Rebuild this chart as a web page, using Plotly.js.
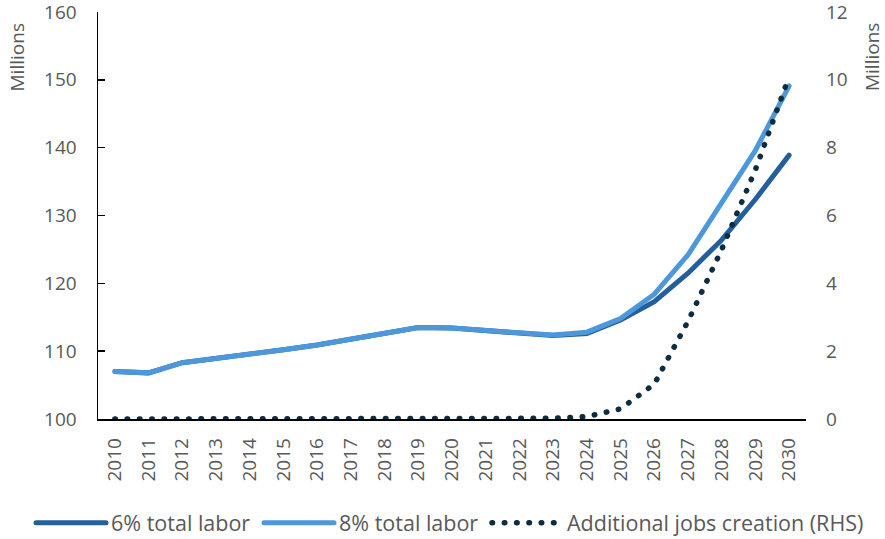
<!DOCTYPE html>
<html><head><meta charset="utf-8">
<script src="https://cdn.plot.ly/plotly-3.0.1.min.js"></script>
<style>
html,body{margin:0;padding:0;background:#fff}
#chart{width:885px;height:539px}
path.js-line{stroke-linecap:round}
</style></head><body><div id="chart"></div>
<script>
const years = ['2010','2011','2012','2013','2014','2015','2016','2017','2018','2019','2020','2021','2022','2023','2024','2025','2026','2027','2028','2029','2030'];
const labor6 = [107.0,106.8,108.3,108.9,109.6,110.2,110.9,111.8,112.7,113.5,113.4,113.0,112.7,112.3,112.6,114.6,117.3,121.5,126.4,132.4,138.9];
const labor8 = [107.0,106.8,108.3,108.9,109.6,110.2,110.9,111.8,112.7,113.5,113.4,113.0,112.7,112.4,112.8,114.8,118.4,124.2,131.8,139.6,149.1];
const jobs = [0,0,0,0,0,0,0,0,0,0,0,0,0,0.02,0.07,0.3,1.03,2.88,5.0,7.35,10.1];
const seriesNames = ['6% total labor','8% total labor','Additional jobs creation (RHS)'];
const axisTitle = 'Millions';

const txt = '#595959';
const fam = '"Open Sans", "Noto Sans", sans-serif';
const fs = 19;

const traces = [
  {x: years, y: labor6, name: seriesNames[0], type:'scatter', mode:'lines', line:{color:'#235F9C', width:5}},
  {x: years, y: labor8, name: seriesNames[1], type:'scatter', mode:'lines', line:{color:'#4D97DB', width:5}},
  {x: years, y: jobs, name: seriesNames[2], type:'scatter', mode:'lines', yaxis:'y2', line:{color:'#0C2C3F', width:5.5, dash:'0.5px,11.8px'}}
];

const layout = {
  width: 885, height: 539,
  margin: {l:98, r:79, t:12, b:120, autoexpand:false},
  paper_bgcolor:'#fff', plot_bgcolor:'#fff',
  font: {family: fam, color: txt, size: fs},
  showlegend: true,
  xaxis: {type:'category', range:[-0.5,20.5], showline:true, linecolor:'#000', linewidth:1.5, ticks:'', tickangle:-90, automargin:false,
          tickfont:{size:fs, color:txt}, showgrid:false, zeroline:false, ticklabelstandoff:10, fixedrange:true, ticklabeloverflow:'allow'},
  yaxis: {range:[100,160], dtick:10, showline:true, linecolor:'#000', linewidth:1.5, ticks:'inside', ticklen:7, tickcolor:'#000', tickwidth:1.5, automargin:false,
          showgrid:false, zeroline:false, tickfont:{size:fs, color:txt}, ticklabelstandoff:16, fixedrange:true, ticklabeloverflow:'allow'},
  yaxis2: {overlaying:'y', side:'right', range:[0,12], dtick:2, showgrid:false, zeroline:false, showline:false, ticks:'', automargin:false,
           tickfont:{size:fs, color:txt}, ticklabelstandoff:19, fixedrange:true, ticklabeloverflow:'allow'},
  legend: {orientation:'h', x:-0.0946, xanchor:'left', y:-0.255, yanchor:'middle', entrywidth:143, entrywidthmode:'pixels',
           itemwidth:70, font:{size:21.5, color:txt}, bgcolor:'rgba(0,0,0,0)'},
  annotations: [
    {text: axisTitle, xref:'paper', yref:'paper', x:-0.114, y:0.889, textangle:-90, showarrow:false, font:{size:fs, color:txt}, xanchor:'center', yanchor:'middle'},
    {text: axisTitle, xref:'paper', yref:'paper', x:1.093, y:0.889, textangle:-90, showarrow:false, font:{size:fs, color:txt}, xanchor:'center', yanchor:'middle'}
  ]
};

Plotly.newPlot('chart', traces, layout, {staticPlot:true, displayModeBar:false}).then(function(){
  document.querySelectorAll('g.plot[clip-path]').forEach(function(g){ g.removeAttribute('clip-path'); });
  document.querySelectorAll('.legend [clip-path]').forEach(function(g){ g.removeAttribute('clip-path'); });
});
</script></body></html>
